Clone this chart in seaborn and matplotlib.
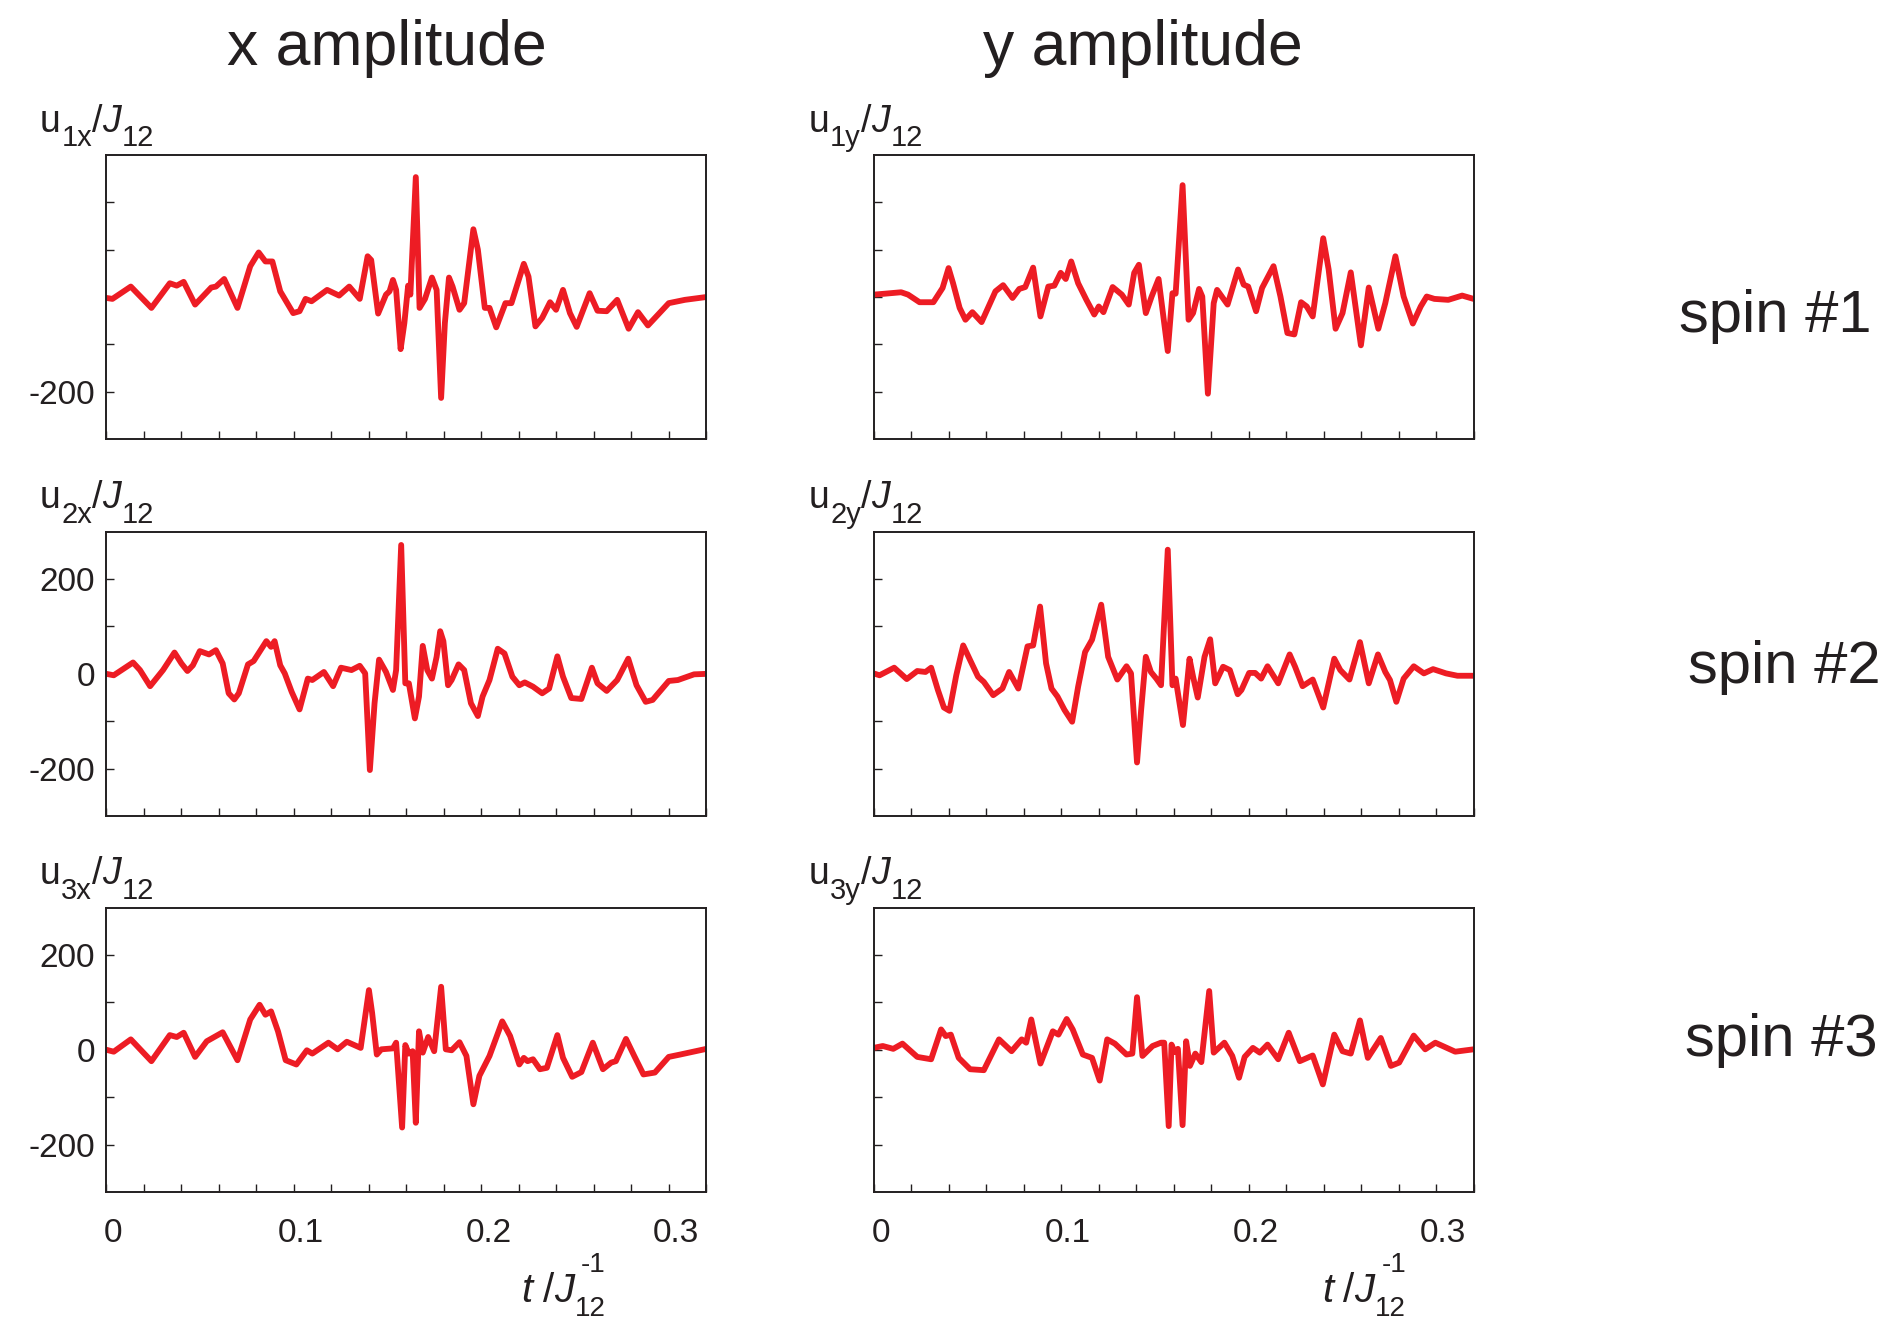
import numpy as np
import pandas as pd
import matplotlib
matplotlib.use('Agg')
import matplotlib.pyplot as plt
import matplotlib.transforms as mtransforms
import seaborn as sns

# ── Data (time in units of 1e-3 / J12) ──
t_1x = [0, 3.2, 13.0, 24.0, 33.8, 37.5, 41.2, 47.3, 55.9, 58.4, 62.8, 69.9, 76.7, 81.2, 84.8,
        88.5, 92.7, 99.6, 103.0, 106.2, 109.4, 117.7, 124.1, 129.5, 135.1, 139.3, 141.2, 144.9,
        149.1, 151.0, 152.8, 154.5, 156.9, 158.9, 160.9, 162.1, 165.0, 167.0, 169.9, 173.6,
        176.1, 178.5, 180.5, 182.7, 184.6, 188.3, 190.8, 195.7, 198.1, 201.8, 204.3, 207.9,
        212.8, 216.0, 222.6, 225.1, 228.8, 232.4, 236.6, 239.8, 243.5, 247.2, 250.8, 257.7,
        261.9, 266.8, 272.4, 278.5, 283.5, 288.8, 299.9, 308.5, 320.0]
u_1x = [-2, -4, 22, -23, 29, 24, 32, -16, 20, 22, 38, -23, 65, 94, 75, 75, 12, -34, -30, -4,
        -9, 15, 3, 22, -4, 86, 78, -35, 5, 12, 36, 15, -110, -55, 24, 5, 253, -23, -4, 41, 15,
        -213, -55, 41, 22, -27, -13, 143, 100, -23, -23, -64, -13, -13, 70, 43, -62, -44, -11,
        -27, 15, -34, -63, 8, -29, -30, -6, -67, -32, -60, -13, -6, 0]

t_2x = [0, 3.9, 14.2, 17.9, 23.3, 30.2, 36.3, 40.0, 43.2, 46.1, 49.8, 54.7, 58.4, 62.0, 65.2,
        68.2, 70.6, 75.5, 78.5, 85.3, 87.8, 89.7, 92.7, 95.1, 98.8, 103.0, 107.4, 109.8, 116.0,
        120.9, 125.1, 130.7, 135.1, 138.0, 140.5, 143.0, 145.4, 149.1, 152.8, 154.5, 157.2,
        159.4, 161.3, 164.5, 166.7, 168.7, 171.1, 173.6, 176.1, 178.0, 179.7, 182.2, 184.1,
        187.8, 190.8, 194.4, 198.1, 200.6, 204.3, 208.7, 212.3, 216.5, 220.2, 223.1, 227.5,
        232.4, 236.1, 240.5, 243.5, 247.9, 253.3, 258.9, 261.9, 266.8, 272.4, 278.3, 282.7,
        287.6, 291.3, 299.9, 304.8, 313.4, 320.0]
u_2x = [0, -3, 24, 8, -26, 8, 45, 22, 6, 18, 48, 41, 50, 22, -41, -54, -41, 20, 27, 69, 57, 69,
        18, 1, -38, -75, -10, -13, 4, -26, 13, 8, 17, 1, -203, -62, 30, 4, -34, 8, 272, -20, -20,
        -94, -48, 59, 8, -10, 36, 90, 69, -24, -13, 20, 8, -62, -89, -48, -13, 53, 43, -6, -24,
        -18, -27, -41, -31, 37, -6, -51, -53, 13, -20, -36, -13, 32, -24, -59, -55, -15, -13,
        -1, 0]

t_3x = [0, 3.9, 13.0, 24.0, 33.8, 37.5, 41.2, 47.3, 53.5, 62.0, 69.9, 76.7, 81.7, 84.8, 87.8,
        91.5, 95.6, 101.3, 106.9, 109.8, 118.4, 123.3, 128.2, 135.6, 140.0, 141.7, 144.2, 146.6,
        152.8, 154.5, 157.7, 159.4, 161.3, 163.3, 165.0, 166.7, 168.7, 171.6, 174.8, 178.5,
        181.0, 184.1, 188.3, 192.0, 195.7, 198.9, 204.3, 211.1, 215.3, 220.2, 222.6, 224.6,
        227.5, 231.2, 234.9, 240.5, 243.5, 248.4, 253.3, 259.4, 264.8, 269.2, 271.7, 277.1,
        281.5, 286.4, 292.5, 299.9, 306.0, 320.0]
u_3x = [0, -4, 22, -24, 31, 27, 36, -15, 18, 37, -22, 64, 95, 74, 81, 39, -22, -31, -1, -8, 15,
        1, 17, 4, 126, 78, -10, 1, 3, 15, -164, 10, -8, -3, -154, 39, -6, 27, -3, 133, 1, -1, 16,
        -13, -115, -55, -13, 60, 29, -31, -17, -24, -20, -41, -38, 31, -17, -57, -47, 15, -41,
        -27, -24, 23, -13, -52, -48, -15, -10, 2]

t_1y = [0, 6.1, 14.7, 18.4, 24.5, 31.9, 36.8, 40.0, 42.4, 45.9, 49.0, 52.7, 57.6, 65.0, 69.1,
        74.1, 77.7, 80.9, 85.1, 89.0, 93.2, 96.4, 99.8, 102.5, 105.4, 109.1, 113.5, 117.7,
        120.1, 122.6, 127.5, 132.4, 136.1, 139.0, 141.5, 145.2, 148.3, 152.0, 156.9, 159.4,
        161.1, 164.8, 168.0, 170.4, 173.6, 175.3, 178.3, 181.4, 183.2, 188.8, 194.4, 197.4,
        199.8, 204.0, 207.2, 213.3, 217.0, 220.7, 224.4, 228.0, 231.0, 234.2, 239.8, 242.7,
        246.4, 250.1, 254.5, 259.9, 264.1, 269.2, 272.9, 278.3, 282.7, 287.6, 291.8, 295.0,
        299.1, 306.5, 313.9, 320.0]
u_1y = [5, 7, 10, 5, -11, -11, 19, 61, 29, -23, -48, -32, -53, 12, 25, -2, 17, 21, 62, -41, 22,
        24, 51, 38, 75, 29, -6, -37, -20, -32, 21, 5, -16, 51, 68, -34, 1, 38, -114, 8, 7, 236,
        -48, -34, 17, 1, -204, -13, 15, -16, 58, 26, 22, -30, 19, 65, 1, -76, -79, -11, -20, -41,
        124, 58, -67, -34, 52, -102, 20, -67, -13, 86, 1, -56, -20, 1, -4, -6, 3, -4]

t_2y = [0, 3.2, 11.0, 17.7, 23.3, 27.7, 30.7, 34.3, 37.5, 40.5, 44.1, 47.8, 51.5, 55.7, 58.8,
        63.8, 68.7, 72.3, 77.2, 82.1, 85.1, 88.8, 92.0, 94.9, 98.1, 101.8, 105.9, 109.1, 112.8,
        116.5, 121.4, 125.1, 130.0, 134.9, 137.3, 140.5, 142.7, 145.2, 147.9, 150.8, 153.3,
        156.9, 159.4, 161.1, 165.0, 168.5, 170.4, 172.9, 176.5, 179.5, 182.2, 186.4, 190.0,
        194.2, 196.2, 200.3, 203.5, 206.7, 210.1, 215.8, 221.9, 224.8, 228.8, 234.2, 239.8,
        245.7, 248.9, 253.8, 259.4, 264.1, 269.0, 272.9, 275.4, 278.8, 282.7, 288.1, 293.5,
        298.4, 305.3, 311.4, 320.0]
u_2y = [1, -3, 13, -11, 6, 4, 13, -34, -71, -78, -3, 60, 29, -6, -17, -45, -31, 4, -31, 58, 60,
        142, 22, -31, -48, -76, -101, -27, 46, 72, 146, 36, -12, 16, 1, -187, -76, 36, 4, -10,
        -24, 262, -24, -10, -108, 32, -6, -50, 36, 73, -20, 15, 8, -43, -34, 2, 2, -10, 16, -20,
        41, 15, -26, -12, -71, 32, 8, -12, 67, -20, 41, 4, -13, -59, -10, 16, 1, 10, 1, -4, -4]

t_3y = [0, 4.9, 10.5, 15.4, 23.3, 30.7, 36.0, 38.5, 41.2, 45.4, 51.5, 58.8, 66.9, 73.6, 79.0,
        81.4, 84.1, 89.0, 95.6, 98.6, 103.0, 106.2, 111.6, 116.5, 120.6, 124.6, 128.7, 134.9,
        138.0, 140.5, 143.4, 148.8, 153.3, 155.0, 157.4, 158.9, 160.6, 162.3, 164.8, 166.7,
        168.7, 171.6, 174.8, 179.0, 181.4, 187.1, 191.3, 194.9, 197.9, 202.3, 206.0, 210.1,
        215.8, 221.4, 227.3, 234.2, 239.6, 245.7, 250.1, 254.5, 259.4, 263.6, 270.5, 275.9,
        280.3, 288.1, 294.2, 299.6, 310.2, 320.0]
u_3y = [4, 8, 2, 13, -15, -20, 43, 29, 32, -17, -41, -43, 22, -3, 22, 15, 64, -29, 39, 32, 65,
        43, -10, -17, -65, 22, 13, -10, -8, 111, -13, 8, 15, 15, -161, 11, -5, 2, -159, 18, -34,
        -8, -26, 124, -6, 15, -13, -59, -15, 4, -6, 11, -20, 36, -24, -12, -73, 32, -3, -8, 62,
        -17, 25, -34, -27, 30, 1, 15, -4, 1]

y_ticks = [-200, -100, 0, 100, 200]
x_ticks = [0.02 * i for i in range(17)]
x_labels = ['0', '', '', '', '', '0.1', '', '', '', '', '0.2', '', '', '', '', '0.3', '']
col_titles = ['x amplitude', 'y amplitude']
row_labels = ['spin #1', 'spin #2', 'spin #3']

# ── Style ────────────────────────────────────────────────────
sns.set_theme(style='white')
plt.rcParams['font.family'] = ['Liberation Sans', 'DejaVu Sans']

RED = '#ED1C24'
INK = '#231F20'
DESC = 0.212   # descent of the font, in em


def chain_text(ax, x, y, pieces):
    """Write text pieces one after another; each piece is
    (string, size, baseline shift in pt, italic, extra x gap in pt, align right)."""
    s, size, sh, it, dx, right = pieces[0]
    prev = ax.text(x, y, s, transform=ax.transAxes, fontsize=size, color=INK,
                   fontstyle='italic' if it else 'normal', ha='left', va='baseline')
    psize, psh = size, sh
    for s, size, sh, it, dx, right in pieces[1:]:
        off = (sh - DESC * size) - (psh - DESC * psize)
        prev = ax.annotate(s, xy=(1, 0), xycoords=prev, xytext=(dx, off),
                           textcoords='offset points', fontsize=size, color=INK,
                           fontstyle='italic' if it else 'normal',
                           ha='right' if right else 'left', va='bottom',
                           annotation_clip=False)
        psize, psh = size, sh


fig = plt.figure(figsize=(18.97, 13.2), dpi=100)
lefts = [0.0561, 0.4605]
bottoms = [0.6673, 0.3818, 0.0970]
W, H = 0.3163, 0.2154

series = {
    (0, 0): (t_1x, u_1x, '1x'), (1, 0): (t_2x, u_2x, '2x'), (2, 0): (t_3x, u_3x, '3x'),
    (0, 1): (t_1y, u_1y, '1y'), (1, 1): (t_2y, u_2y, '2y'), (2, 1): (t_3y, u_3y, '3y'),
}

for (r, c), (t, u, name) in series.items():
    ax = fig.add_axes([lefts[c], bottoms[r], W, H])
    df = pd.DataFrame({'t': np.array(t) / 1000.0, 'u': u})
    sns.lineplot(data=df, x='t', y='u', ax=ax, color=RED, lw=4.2,
                 estimator=None, sort=False)
    for ln in ax.get_lines():
        ln.set_solid_joinstyle('round')
        ln.set_solid_capstyle('round')
    ax.set_xlim(0, 0.32)
    ax.set_ylim(-300, 300)
    ax.set_xlabel('')
    ax.set_ylabel('')

    # y ticks: labels only on the left column
    if c == 0 and r == 0:
        ylab = ['-200', '', '', '', '']
    elif c == 0:
        ylab = ['-200', '', '0', '', '200']
    else:
        ylab = [''] * 5
    ax.set_yticks(y_ticks, ylab)
    ax.set_xticks(x_ticks, x_labels if r == 2 else [''] * len(x_ticks))

    ax.tick_params(axis='both', direction='in', length=6, width=1, color=INK,
                   labelcolor=INK, labelsize=24, left=True, bottom=True)
    ax.tick_params(axis='y', pad=8)
    ax.tick_params(axis='x', pad=19)
    shift = mtransforms.ScaledTranslation(0.07, 0, fig.dpi_scale_trans)
    for lab in ax.get_xticklabels():
        lab.set_transform(lab.get_transform() + shift)
    for sp in ax.spines.values():
        sp.set_visible(True)
        sp.set_color(INK)
        sp.set_linewidth(1.4)

    # panel label u_ix / J_12
    lx = -0.111 if c == 0 else -0.108
    chain_text(ax, lx, 1.082, [
        ('u', 27, 0, False, 0, False),
        (name, 21, -10.5, False, 0.5, False),
        ('/', 27, 0, False, 0, False),
        ('J', 27, 0, True, 0, False),
        ('12', 21, -10.5, False, 0.5, False),
    ])

    if r == 2:
        xpos = 0.691 if c == 0 else 0.747
        chain_text(ax, xpos, -0.387, [
            ('t', 29, 0, True, 0, False),
            ('/', 29, 0, False, 7.5, False),
            ('J', 29, 0, True, 0, False),
            ('12', 20, -10.8, False, 0.5, False),
            ('-1', 20, 21, False, 0, True),
        ])

fig.text(0.204, 0.9508, col_titles[0], fontsize=45, color=INK, ha='center', va='baseline')
fig.text(0.6025, 0.9508, col_titles[1], fontsize=45, color=INK, ha='center', va='baseline')

for lab, x, y in zip(row_labels, [0.936, 0.9405, 0.9388], [0.7485, 0.4822, 0.2000]):
    fig.text(x, y, lab, fontsize=43, color=INK, ha='center', va='baseline')

fig.savefig('out.png', dpi=100, facecolor='white')
